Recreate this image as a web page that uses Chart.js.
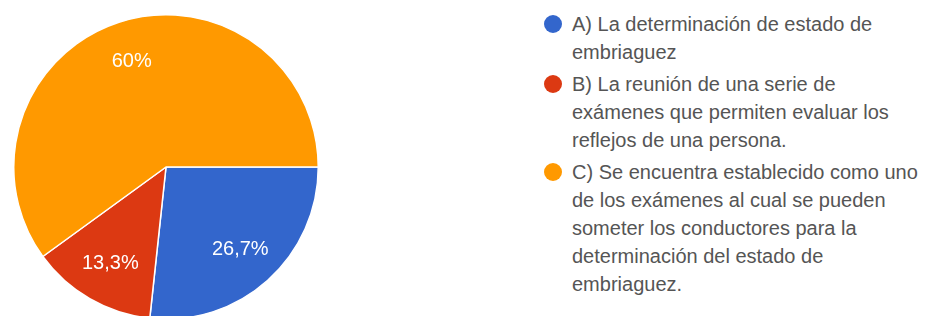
<!DOCTYPE html>
<html>
<head>
<meta charset="utf-8">
<script src="https://cdn.jsdelivr.net/npm/chart.js@4.4.0/dist/chart.umd.min.js"></script>
<style>
  html, body { margin: 0; padding: 0; background: #fff; overflow: hidden; }
  body { width: 937px; height: 316px; position: relative; font-family: "Liberation Sans", Arial, sans-serif; }
  #pieWrap { position: absolute; left: 13px; top: 14px; width: 306px; height: 306px; }
  #legend { position: absolute; left: 544px; top: 10px; margin: 0; padding: 0; list-style: none; }
  #legend li { position: relative; padding-left: 28px; margin-bottom: 4px; font-size: 20px; line-height: 28px; color: #555; white-space: nowrap; }
  #legend .dot { position: absolute; left: 0; top: 5px; width: 18px; height: 18px; border-radius: 50%; }
</style>
</head>
<body>
<div id="pieWrap"><canvas id="pieChart"></canvas></div>
<ul id="legend"></ul>
<script>
// options de la pregunta, una linea por renglon como en la leyenda
const labels = [
  ['A) La determinación de estado de', 'embriaguez'],
  ['B) La reunión de una serie de', 'exámenes que permiten evaluar los', 'reflejos de una persona.'],
  ['C) Se encuentra establecido como uno', 'de los exámenes al cual se pueden', 'someter los conductores para la', 'determinación del estado de', 'embriaguez.']
]
const values = [26.7, 13.3, 60]
const colors = ['#3366cc', '#dc3912', '#ff9900']

// leyenda
const legend = document.getElementById('legend')
labels.forEach((lines, i) => {
  const li = document.createElement('li')
  li.innerHTML = `<span class="dot" style="background:${colors[i]}"></span>` + lines.join('<br>')
  legend.appendChild(li)
})

const ctx = document.getElementById('pieChart').getContext('2d')
new Chart(ctx, {
  type: 'pie',
  data: {
    labels: labels,
    datasets: [
      {
        data: values,
        backgroundColor: colors,
        borderColor: '#fff',
        borderWidth: 1.5,
        hoverOffset: 0
      }
    ]
  },
  options: {
    responsive: true,
    maintainAspectRatio: false,
    animation: false,
    rotation: 90, // empieza a las 3 en punto
    layout: { padding: 0 },
    plugins: {
      legend: { display: false },
      tooltip: { enabled: false }
    }
  },
  plugins: [
    {
      id: 'sliceLabels',
      afterDatasetsDraw: chart => {
        const c = chart.ctx
        const meta = chart.getDatasetMeta(0)
        c.save()
        c.font = '20px "Liberation Sans", Arial, sans-serif'
        c.fillStyle = '#fff'
        c.textAlign = 'center'
        c.textBaseline = 'middle'
        meta.data.forEach((arc, i) => {
          const { x, y, startAngle, endAngle, outerRadius } = arc.getProps(['x', 'y', 'startAngle', 'endAngle', 'outerRadius'], true)
          const mid = (startAngle + endAngle) / 2
          const r = outerRadius * 0.73
          const txt = String(values[i]).replace('.', ',') + '%'
          c.fillText(txt, x + Math.cos(mid) * r, y + Math.sin(mid) * r)
        })
        c.restore()
      }
    }
  ]
})
</script>
</body>
</html>
